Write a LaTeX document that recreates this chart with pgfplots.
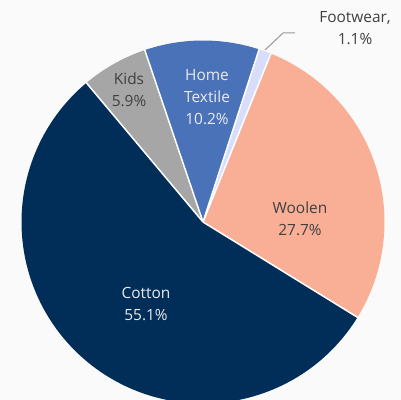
\documentclass[border=0pt]{standalone}
\usepackage{pgfplots}
\usepackage{pgfplotstable}
\pgfplotsset{compat=1.18}
\usepackage{fontspec}
\setmainfont{Open Sans}
\definecolor{bgc}{RGB}{250,250,250}
\definecolor{cfoot}{RGB}{216,222,250}
\definecolor{cwool}{RGB}{248,175,150}
\definecolor{ccot}{RGB}{1,46,88}
\definecolor{ckids}{RGB}{166,166,166}
\definecolor{chome}{RGB}{74,114,184}
\definecolor{darktxt}{RGB}{64,64,64}
\definecolor{lighttxt}{RGB}{235,235,235}
\pgfplotstableread{
label value color
Footwear 1.1 cfoot
Woolen 27.7 cwool
Cotton 55.1 ccot
Kids 5.9 ckids
HomeTextile 10.2 chome
}\pietable
\begin{document}
\begin{tikzpicture}
\begin{axis}[
  width=401bp, height=400bp, scale only axis,
  xmin=0, xmax=401, ymin=0, ymax=400,
  hide axis, clip=true,
]
\pgfplotsextra{
  \fill[bgc] (axis cs:0,0) rectangle (axis cs:401,400);
  \gdef\cum{0}
  \foreach \i in {0,...,4}{
    \pgfplotstablegetelem{\i}{value}\of\pietable \let\sv\pgfplotsretval
    \pgfplotstablegetelem{\i}{color}\of\pietable \let\slicecol\pgfplotsretval
    \pgfmathsetmacro\sa{72-3.6*\cum}
    \pgfmathsetmacro\ea{\sa-3.6*\sv}
    \fill[fill=\slicecol]
      (axis cs:203,178) -- ++(\sa:181.5bp) arc[start angle=\sa, end angle=\ea, radius=181.5bp] -- cycle;
    \pgfmathsetmacro\newcum{\cum+\sv}
    \xdef\cum{\newcum}
  }
  \gdef\cum{0}
  \foreach \i in {0,...,4}{
    \pgfplotstablegetelem{\i}{value}\of\pietable \let\sv\pgfplotsretval
    \pgfmathsetmacro\sa{72-3.6*\cum}
    \draw[white, line width=1.5bp] (axis cs:203,178) -- ++(\sa:182bp);
    \pgfmathsetmacro\newcum{\cum+\sv}
    \xdef\cum{\newcum}
  }
  \draw[gray!80, line width=1bp] (axis cs:295,367) -- (axis cs:283,367) -- (axis cs:265,350);
}
\begin{scope}[every node/.style={font=\fontsize{15.5}{22}\selectfont, align=center, inner sep=0pt}]
\node[text=darktxt] at (axis cs:355,372) {Footwear,\\1.1\%};
\node[text=darktxt] at (axis cs:129,310) {Kids\\5.9\%};
\node[text=lighttxt] at (axis cs:207,303) {Home\\Textile\\10.2\%};
\node[text=darktxt] at (axis cs:300,181) {Woolen\\27.7\%};
\node[text=lighttxt] at (axis cs:146,96) {Cotton\\55.1\%};
\end{scope}
\end{axis}
\end{tikzpicture}
\end{document}
